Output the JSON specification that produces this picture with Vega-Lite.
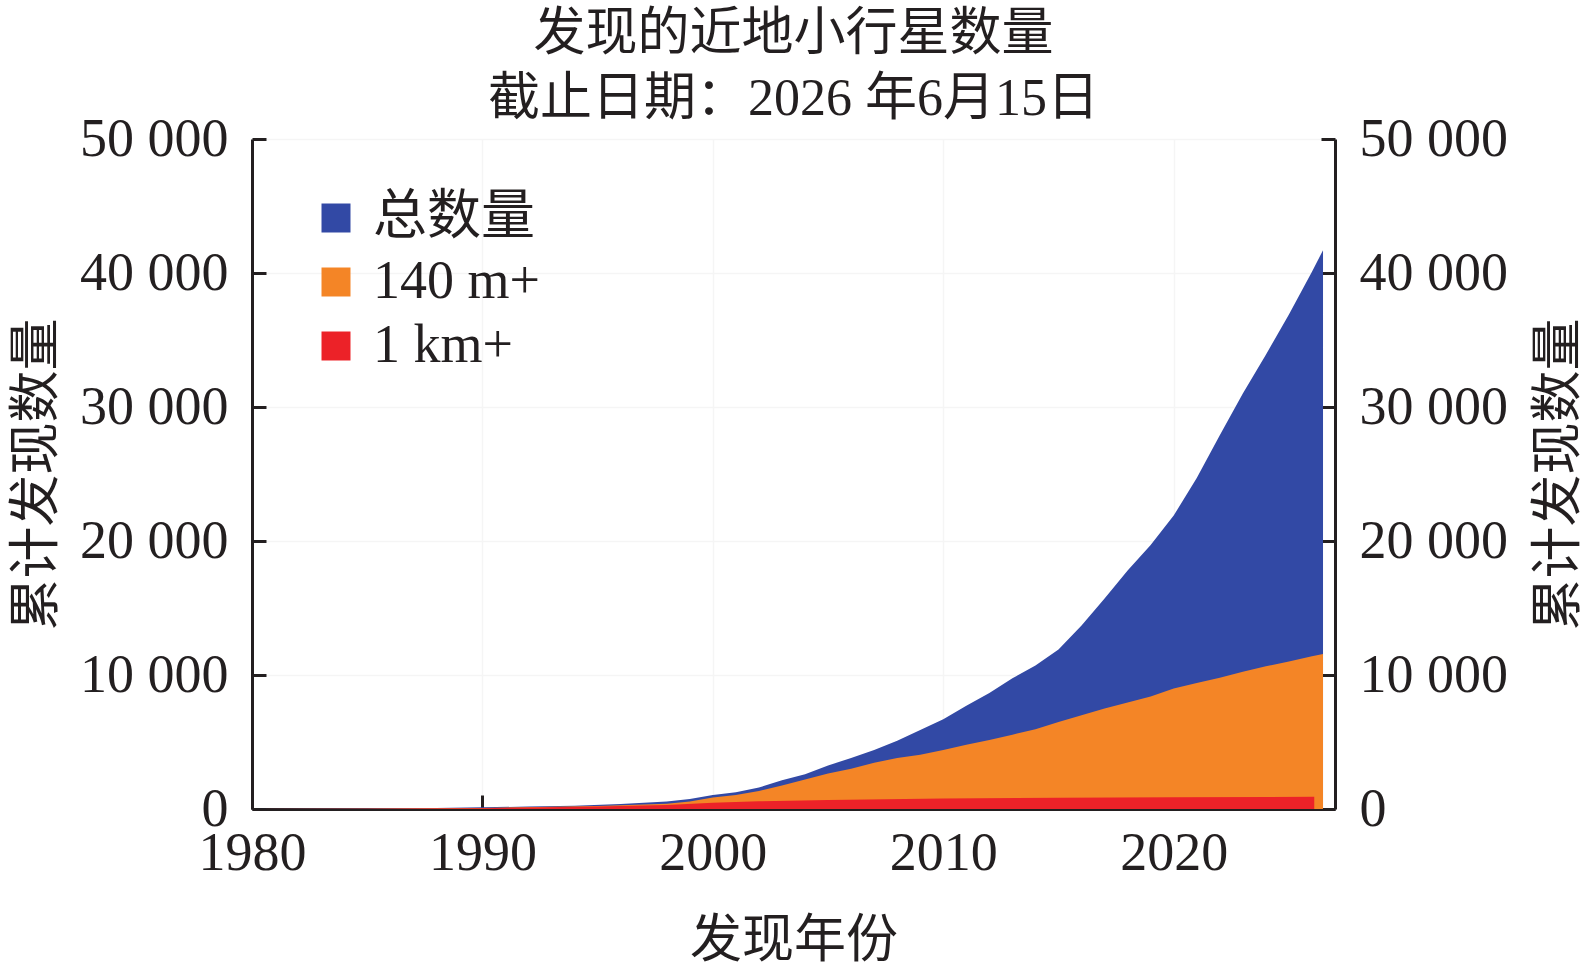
{
  "$schema": "https://vega.github.io/schema/vega-lite/v6.json",
  "width": 1083,
  "height": 670,
  "autosize": {"type": "none"},
  "padding": {"left": 252, "top": 139, "right": 259, "bottom": 164},
  "title": {
    "text": ["发现的近地小行星数量", "截止日期：2026 年6月15日"],
    "fontSize": 52,
    "fontWeight": "normal",
    "lineHeight": 65,
    "color": "#231f20",
    "anchor": "middle",
    "frame": "group",
    "offset": -14
  },
  "data": {
    "values": [
      {"year": 1980, "count": 0, "series": "总数量"},
      {"year": 1985, "count": 30, "series": "总数量"},
      {"year": 1988, "count": 70, "series": "总数量"},
      {"year": 1990, "count": 130, "series": "总数量"},
      {"year": 1992, "count": 180, "series": "总数量"},
      {"year": 1994, "count": 250, "series": "总数量"},
      {"year": 1996, "count": 370, "series": "总数量"},
      {"year": 1998, "count": 560, "series": "总数量"},
      {"year": 1999, "count": 750, "series": "总数量"},
      {"year": 2000, "count": 1050, "series": "总数量"},
      {"year": 2001, "count": 1250, "series": "总数量"},
      {"year": 2002, "count": 1600, "series": "总数量"},
      {"year": 2003, "count": 2150, "series": "总数量"},
      {"year": 2004, "count": 2600, "series": "总数量"},
      {"year": 2005, "count": 3250, "series": "总数量"},
      {"year": 2006, "count": 3800, "series": "总数量"},
      {"year": 2007, "count": 4400, "series": "总数量"},
      {"year": 2008, "count": 5100, "series": "总数量"},
      {"year": 2009, "count": 5900, "series": "总数量"},
      {"year": 2010, "count": 6700, "series": "总数量"},
      {"year": 2011, "count": 7700, "series": "总数量"},
      {"year": 2012, "count": 8650, "series": "总数量"},
      {"year": 2013, "count": 9750, "series": "总数量"},
      {"year": 2014, "count": 10700, "series": "总数量"},
      {"year": 2015, "count": 11900, "series": "总数量"},
      {"year": 2016, "count": 13700, "series": "总数量"},
      {"year": 2017, "count": 15700, "series": "总数量"},
      {"year": 2018, "count": 17800, "series": "总数量"},
      {"year": 2019, "count": 19700, "series": "总数量"},
      {"year": 2020, "count": 21900, "series": "总数量"},
      {"year": 2021, "count": 24700, "series": "总数量"},
      {"year": 2022, "count": 27900, "series": "总数量"},
      {"year": 2023, "count": 31000, "series": "总数量"},
      {"year": 2024, "count": 33900, "series": "总数量"},
      {"year": 2025, "count": 36900, "series": "总数量"},
      {"year": 2026, "count": 40100, "series": "总数量"},
      {"year": 2026.48, "count": 41700, "series": "总数量"},

      {"year": 1980, "count": 0, "series": "140 m+"},
      {"year": 1985, "count": 20, "series": "140 m+"},
      {"year": 1990, "count": 80, "series": "140 m+"},
      {"year": 1995, "count": 220, "series": "140 m+"},
      {"year": 1998, "count": 400, "series": "140 m+"},
      {"year": 1999, "count": 560, "series": "140 m+"},
      {"year": 2000, "count": 850, "series": "140 m+"},
      {"year": 2001, "count": 1050, "series": "140 m+"},
      {"year": 2002, "count": 1350, "series": "140 m+"},
      {"year": 2003, "count": 1750, "series": "140 m+"},
      {"year": 2004, "count": 2200, "series": "140 m+"},
      {"year": 2005, "count": 2650, "series": "140 m+"},
      {"year": 2006, "count": 3000, "series": "140 m+"},
      {"year": 2007, "count": 3450, "series": "140 m+"},
      {"year": 2008, "count": 3800, "series": "140 m+"},
      {"year": 2009, "count": 4050, "series": "140 m+"},
      {"year": 2010, "count": 4400, "series": "140 m+"},
      {"year": 2011, "count": 4800, "series": "140 m+"},
      {"year": 2012, "count": 5150, "series": "140 m+"},
      {"year": 2013, "count": 5550, "series": "140 m+"},
      {"year": 2014, "count": 5950, "series": "140 m+"},
      {"year": 2015, "count": 6500, "series": "140 m+"},
      {"year": 2016, "count": 7000, "series": "140 m+"},
      {"year": 2017, "count": 7500, "series": "140 m+"},
      {"year": 2018, "count": 7950, "series": "140 m+"},
      {"year": 2019, "count": 8400, "series": "140 m+"},
      {"year": 2020, "count": 9000, "series": "140 m+"},
      {"year": 2021, "count": 9400, "series": "140 m+"},
      {"year": 2022, "count": 9800, "series": "140 m+"},
      {"year": 2023, "count": 10250, "series": "140 m+"},
      {"year": 2024, "count": 10650, "series": "140 m+"},
      {"year": 2025, "count": 11000, "series": "140 m+"},
      {"year": 2026, "count": 11400, "series": "140 m+"},
      {"year": 2026.48, "count": 11570, "series": "140 m+"},

      {"year": 1980, "count": 0, "series": "1 km+"},
      {"year": 1985, "count": 15, "series": "1 km+"},
      {"year": 1990, "count": 60, "series": "1 km+"},
      {"year": 1995, "count": 180, "series": "1 km+"},
      {"year": 1998, "count": 300, "series": "1 km+"},
      {"year": 2000, "count": 470, "series": "1 km+"},
      {"year": 2002, "count": 580, "series": "1 km+"},
      {"year": 2005, "count": 680, "series": "1 km+"},
      {"year": 2010, "count": 780, "series": "1 km+"},
      {"year": 2015, "count": 840, "series": "1 km+"},
      {"year": 2020, "count": 880, "series": "1 km+"},
      {"year": 2026.1, "count": 910, "series": "1 km+"}
    ]
  },
  "encoding": {
    "x": {
      "field": "year",
      "type": "quantitative",
      "scale": {"domain": [1980, 2027], "nice": false, "zero": false},
      "axis": {
        "title": "发现年份",
        "values": [1980, 1990, 2000, 2010, 2020],
        "format": "d",
        "labelPadding": 31,
        "titlePadding": 35,
        "grid": true
      }
    },
    "y": {
      "field": "count",
      "type": "quantitative",
      "stack": null,
      "scale": {"domain": [0, 50000], "nice": false}
    },
    "color": {
      "field": "series",
      "type": "nominal",
      "scale": {
        "domain": ["总数量", "140 m+", "1 km+"],
        "range": ["#3249a5", "#f48526", "#ec2228"]
      },
      "legend": {
        "title": null,
        "orient": "none",
        "legendX": 57,
        "legendY": 52,
        "symbolType": "square",
        "symbolSize": 841,
        "symbolStrokeWidth": 0,
        "symbolOpacity": 1,
        "labelFontSize": 54,
        "labelOffset": 10,
        "labelLimit": 0,
        "rowPadding": 10,
        "padding": 0
      }
    }
  },
  "layer": [
    {
      "transform": [{"filter": "datum.series === '总数量'"}],
      "mark": {"type": "area", "opacity": 1},
      "encoding": {
        "y": {
          "field": "count",
          "type": "quantitative",
          "stack": null,
          "axis": {
            "orient": "left",
            "title": "累计发现数量",
            "values": [0, 10000, 20000, 30000, 40000, 50000],
            "labelExpr": "replace(format(datum.value, ','), ',', ' ')",
            "labelPadding": 38,
            "titlePadding": 16,
            "grid": true
          }
        }
      }
    },
    {
      "transform": [{"filter": "datum.series === '140 m+'"}],
      "mark": {"type": "area", "opacity": 1},
      "encoding": {
        "y": {
          "field": "count",
          "type": "quantitative",
          "stack": null,
          "axis": {
            "orient": "right",
            "title": "累计发现数量",
            "titleAngle": 270,
            "titleBaseline": "top",
            "values": [0, 10000, 20000, 30000, 40000, 50000],
            "labelExpr": "replace(format(datum.value, ','), ',', ' ')",
            "labelPadding": 38,
            "titlePadding": 26,
            "grid": false
          }
        }
      }
    },
    {
      "transform": [{"filter": "datum.series === '1 km+'"}],
      "mark": {"type": "area", "opacity": 1},
      "encoding": {
        "y": {
          "field": "count",
          "type": "quantitative",
          "stack": null,
          "axis": null
        }
      }
    }
  ],
  "resolve": {"axis": {"y": "independent"}},
  "config": {
    "view": {"stroke": null},
    "font": "Liberation Serif, Noto Sans CJK SC",
    "axis": {
      "domainColor": "#231f20",
      "domainWidth": 3,
      "tickColor": "#231f20",
      "tickWidth": 3,
      "tickSize": -14,
      "labelFontSize": 54,
      "labelColor": "#231f20",
      "titleFontSize": 52,
      "titleFontWeight": "normal",
      "titleColor": "#231f20",
      "gridColor": "#f5f5f5",
      "gridWidth": 1.5,
      "labelFlush": false,
      "labelOverlap": false
    },
    "legend": {
      "labelColor": "#231f20",
      "labelFont": "Liberation Serif, Noto Sans CJK SC"
    }
  }
}
